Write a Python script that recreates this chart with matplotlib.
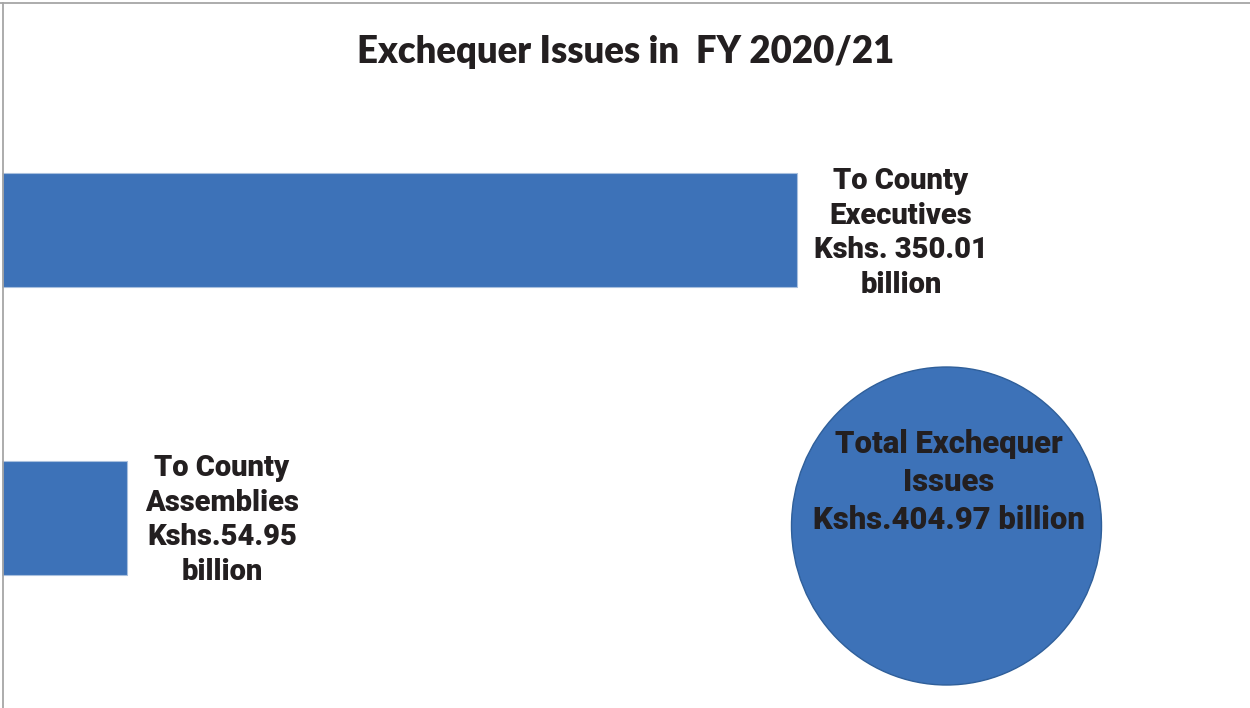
import matplotlib
matplotlib.use("Agg")
import matplotlib.pyplot as plt
from matplotlib.patches import Ellipse
from matplotlib.lines import Line2D

# ---- data ----
categories = ["To County Executives", "To County Assemblies"]
values = [350.01, 54.95]
total_value = 404.97
bar_labels = ["To County\nExecutives\nKshs. 350.01\nbillion",
              "To County\nAssemblies\nKshs.54.95\nbillion"]
total_label = "Total Exchequer\nIssues\nKshs.404.97 billion"
title = "Exchequer Issues in  FY 2020/21"

W, H = 1250, 708
fig = plt.figure(figsize=(W / 100, H / 100), dpi=100)
fig.patch.set_facecolor("white")

BAR = "#3d72b8"
TXT = "#231f20"

# bar axes: pixel-like y scale, value x scale
ax = fig.add_axes([2 / W, 0, 1 - 2 / W, 1])
ax.set_xlim(0, 350.01 * (W - 2) / 795)
ax.set_ylim(H, 0)
ax.axis("off")

ypos = [230, 517.5]
ax.barh(ypos, values, height=114, color=BAR, edgecolor="#a9c0de", linewidth=0.8)

label_x = [901, 222]
label_dy = [3, 2.5]
for i, (v, lab) in enumerate(zip(values, bar_labels)):
    ax.text(ax.get_xlim()[1] * (label_x[i] - 2) / (W - 2), ypos[i] + label_dy[i], lab,
            ha="center", va="center", fontsize=21, fontfamily="Roboto",
            fontweight="heavy", color=TXT, linespacing=1.3)

# circle for total
cx, cy, rw, rh = 946.5, 526, 310, 318
cax = fig.add_axes([(cx - rw / 2 - 2) / W, 1 - (cy + rh / 2 + 2) / H,
                    (rw + 4) / W, (rh + 4) / H])
cax.axis("off")
cax.set_xlim(0, 1)
cax.set_ylim(0, 1)
cax.add_patch(Ellipse((0.5, 0.5), rw / (rw + 4), rh / (rh + 4),
                      facecolor=BAR, edgecolor="#2f5f9a", linewidth=1.0))
fig.text(949 / W, 1 - 482 / H, total_label, ha="center", va="center",
         fontsize=22.3, fontfamily="Roboto", fontweight="heavy", color=TXT,
         linespacing=1.33)

# title
fig.text(626 / W, 1 - 52 / H, title, ha="center", va="center",
         fontsize=26.3, fontfamily="Lato", fontweight="heavy", color=TXT)

# border lines (top and left)
fig.add_artist(Line2D([0, 1], [1 - 2.5 / H, 1 - 2.5 / H], transform=fig.transFigure,
                      color="#a6a6a6", linewidth=1.3))
fig.add_artist(Line2D([2.5 / W, 2.5 / W], [0, 1 - 2.5 / H], transform=fig.transFigure,
                      color="#a6a6a6", linewidth=1.3))

fig.savefig("out.png", dpi=100, facecolor="white")
